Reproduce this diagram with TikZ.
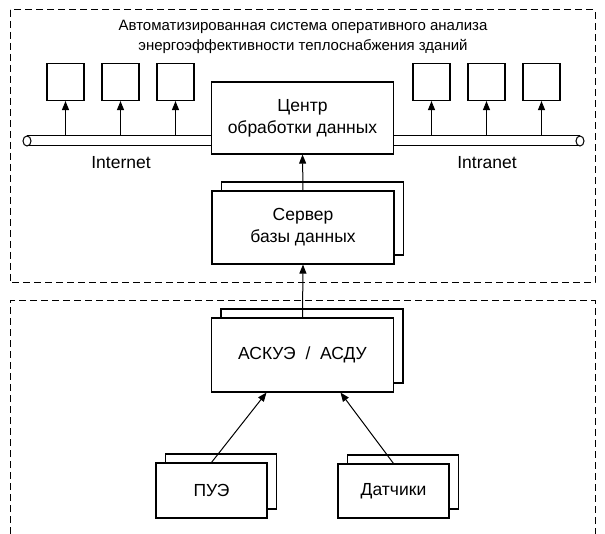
\documentclass[tikz,border=0pt]{standalone}
\usepackage{fontspec}
\setmainfont{Liberation Sans}
\usetikzlibrary{positioning,arrows.meta,shadows}

\begin{document}
\begin{tikzpicture}[
  x=1pt, y=-1pt,
  font=\fontsize{17.5}{22}\selectfont,
  box/.style={draw, fill=white, line width=1.1pt, inner sep=0pt, align=center},
  ws/.style={box, minimum width=37pt, minimum height=37pt},
  unit/.style={box, minimum width=182pt, minimum height=73pt},
  stack/.style={copy shadow={shadow xshift=9.5pt, shadow yshift=9pt}},
  frame/.style={dash pattern=on 7pt off 4pt, line width=1pt},
  arr/.style={-{Triangle[length=9pt,width=7pt]}, line width=1pt},
]
\useasboundingbox (0,0) rectangle (605,534);
% dashed frames
\draw[frame] (10,10) rectangle (595,283);
\draw[frame] (10,534) -- (10,301) -- (595,301) -- (595,534);
\node[align=center, font=\fontsize{15}{20}\selectfont] (title) at (303,37)
  {Автоматизированная система оперативного анализа\\энергоэффективности теплоснабжения зданий};
% bus
\coordinate (busL) at (27,141);
\coordinate (busR) at (580,141);
\coordinate (busT) at (0,136);
\draw[line width=1pt] ([yshift=5pt]busL) -- ([yshift=5pt]busR)
  ([yshift=-5pt]busL) -- ([yshift=-5pt]busR);
\draw[line width=1pt, fill=white] (busL) ellipse [x radius=4pt, y radius=5pt];
\draw[line width=1pt, fill=white] (busR) ellipse [x radius=4pt, y radius=5pt];
% workstations
\foreach \i/\x in {1/65.5, 2/120.5, 3/175.5, 4/431.5, 5/486.5, 6/541.5}{
  \node[ws] (ws\i) at (\x,82) {};
  \draw[arr] (ws\i.south |- busT) -- (ws\i.south);
}
\node (inet) at (121,163) {Internet};
\node (intra) at (487,163) {Intranet};
% units
\node[unit, minimum height=72pt] (cod) at (302.5,118) {Центр\\обработки данных};
\node[unit, stack] (srv) at (303,227.5) {Сервер\\базы данных};
\node[unit, stack, minimum height=74pt] (askue) at (302.5,355) {АСКУЭ~~/~~АСДУ};
\node[box, stack, minimum width=111pt, minimum height=55pt] (pue) at (211.5,490.5) {ПУЭ};
\node[box, stack, minimum width=111pt, minimum height=54pt] (dat) at (393.5,491) {Датчики};
% links
\draw[arr] (srv.north) -- (cod.south);
\draw[arr] (askue.north) -- (srv.south);
\draw[arr] (pue.north) -- ([xshift=-36pt]askue.south);
\draw[arr] (dat.north) -- ([xshift=38pt]askue.south);
\end{tikzpicture}
\end{document}
